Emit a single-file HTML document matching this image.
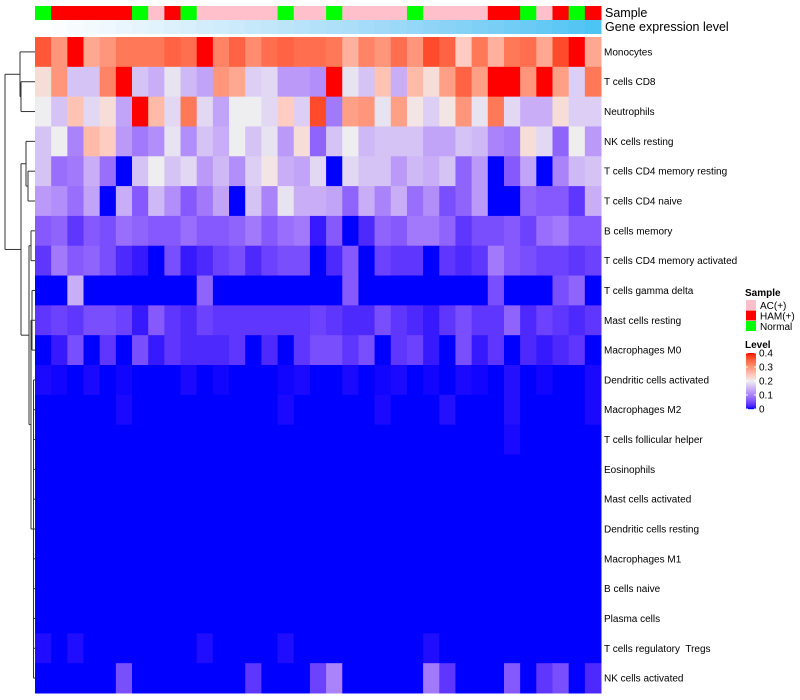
<!DOCTYPE html>
<html><head><meta charset="utf-8"><style>
html,body{margin:0;padding:0;background:#fff;}
svg{display:block;font-family:"Liberation Sans",sans-serif;}
text{white-space:pre;}
</style></head><body>
<svg id="chart" width="800" height="700" viewBox="0 0 800 700"></svg>
<script>
const rowNames=["Monocytes","T cells CD8","Neutrophils","NK cells resting","T cells CD4 memory resting","T cells CD4 naive","B cells memory","T cells CD4 memory activated","T cells gamma delta","Mast cells resting","Macrophages M0","Dendritic cells activated","Macrophages M2","T cells follicular helper","Eosinophils","Mast cells activated","Dendritic cells resting","Macrophages M1","B cells naive","Plasma cells","T cells regulatory  Tregs","NK cells activated"];
const sampleGroups=["N","H","H","H","H","H","N","A","H","N","A","A","A","A","A","N","A","A","N","A","A","A","A","N","A","A","A","A","H","H","N","A","H","N","H"];
const levelTicks=[0,0.1,0.2,0.3,0.4];
const r1=[.36,.30,.40,.28,.30,.33,.33,.33,.35,.34,.40,.32,.35,.31,.34,.35,.34,.34,.33,.27,.32,.30,.34,.30,.37,.35,.24,.33,.27,.33,.34,.28,.37,.40,.28];
const r2=[.22,.30,.16,.16,.32,.40,.16,.14,.19,.15,.13,.30,.28,.17,.18,.12,.12,.11,.40,.19,.16,.25,.14,.26,.22,.29,.35,.29,.40,.40,.30,.40,.29,.17,.33];
const r3=[.20,.16,.25,.18,.22,.13,.40,.26,.18,.33,.18,.13,.20,.20,.18,.24,.17,.37,.09,.29,.30,.19,.29,.21,.17,.21,.30,.19,.33,.18,.14,.14,.22,.17,.17];
const r4=[.16,.20,.10,.26,.24,.12,.09,.11,.19,.11,.16,.14,.20,.16,.19,.12,.22,.07,.16,.20,.15,.16,.16,.16,.13,.13,.16,.15,.10,.09,.22,.18,.07,.20,.12];
const r5=[.16,.08,.09,.14,.08,0,.16,.20,.16,.18,.12,.15,.11,.17,.21,.14,.13,.18,0,.18,.16,.16,.12,.15,.14,.16,.07,.12,0,.06,.13,0,.10,.15,.16];
const r6=[.12,.11,.08,.13,0,.14,.06,.15,.11,.06,.09,.13,0,.16,.10,.19,.14,.14,.13,.07,.14,.10,.14,.08,.11,.05,.07,.12,0,0,.07,.06,.06,.03,.14];
const r7=[.06,.07,.03,.06,.05,.08,.07,.06,.06,.08,.06,.06,.07,.09,.06,.08,.09,.01,.06,0,.02,.07,.06,.09,.09,.07,.03,.05,.05,.06,.04,.08,.09,.06,.06];
const r8=[.03,.09,.06,.07,.05,.02,.01,0,.05,.01,.02,.04,.05,.02,.04,.05,.05,0,.02,.06,0,.04,.03,.03,0,.03,.02,.03,.09,.06,.05,.04,.04,.03,.04];
const r9=[0,0,.14,0,0,0,0,0,0,0,.07,0,0,0,0,0,0,0,0,.06,0,0,0,0,0,0,0,0,.05,0,0,0,.05,.07,0];
const r10=[.03,.04,.03,.05,.05,.04,.01,.06,.03,.02,.04,.03,.03,.03,.03,.03,.03,.04,.03,.02,.02,.05,.03,.02,.01,.03,.05,.03,.03,.07,.02,.04,.03,.02,.03];
const r11=[0,.01,.05,0,.03,0,.05,.01,.03,.02,.02,.02,.03,0,.02,0,.03,.05,.05,.03,.05,0,.03,.04,.01,0,.05,.01,.03,0,.02,.01,.02,.03,0];
const r12=[.003,.0015,0,.003,0,.0015,0,0,0,.003,0,.0015,0,0,0,.0015,.003,0,0,.003,0,.0015,.003,0,.0015,0,.003,.0015,0,.005,0,.0015,0,0,.003];
const r13=[0,0,0,0,0,.003,0,0,0,0,0,0,0,0,0,.003,0,0,0,0,0,.003,0,0,0,.005,0,0,0,.005,0,0,0,0,.003];
const r14=[0,0,0,0,0,0,0,0,0,0,0,0,0,0,0,0,0,0,0,0,0,0,0,0,0,0,0,0,0,.003,0,0,0,0,0];
const r15=[0,0,0,0,0,0,0,0,0,0,0,0,0,0,0,0,0,0,0,0,0,0,0,0,0,0,0,0,0,0,0,0,0,0,0];
const r16=[0,0,0,0,0,0,0,0,0,0,0,0,0,0,0,0,0,0,0,0,0,0,0,0,0,0,0,0,0,0,0,0,0,0,0];
const r17=[0,0,0,0,0,0,0,0,0,0,0,0,0,0,0,0,0,0,0,0,0,0,0,0,0,0,0,0,0,0,0,0,0,0,0];
const r18=[0,0,0,0,0,0,0,0,0,0,0,0,0,0,0,0,0,0,0,0,0,0,0,0,0,0,0,0,0,0,0,0,0,0,0];
const r19=[0,0,0,0,0,0,0,0,0,0,0,0,0,0,0,0,0,0,0,0,0,0,0,0,0,0,0,0,0,0,0,0,0,0,0];
const r20=[0,0,0,0,0,0,0,0,0,0,0,0,0,0,0,0,0,0,0,0,0,0,0,0,0,0,0,0,0,0,0,0,0,0,0];
const r21=[.004,0,.004,0,0,0,0,0,0,0,.004,0,0,0,0,.004,0,0,0,0,0,0,0,0,.004,0,0,0,0,0,0,0,0,0,0];
const r22=[0,0,0,0,0,.05,0,0,0,0,0,0,0,.03,0,0,0,.04,.10,0,0,0,0,0,.09,.03,0,0,0,.06,0,.03,.05,0,.02];
const values=[r1,r2,r3,r4,r5,r6,r7,r8,r9,r10,r11,r12,r13,r14,r15,r16,r17,r18,r19,r20,r21,r22];

const NS="http://www.w3.org/2000/svg";
const svg=document.getElementById("chart");
function mk(tag,attrs,parent){const e=document.createElementNS(NS,tag);for(const k in attrs)e.setAttribute(k,attrs[k]);(parent||svg).appendChild(e);return e;}
function toLin(c){c/=255;return c<=0.04045?c/12.92:Math.pow((c+0.055)/1.055,2.4);}
function fromLin(c){c=c<=0.0031308?12.92*c:1.055*Math.pow(c,1/2.4)-0.055;return Math.max(0,Math.min(255,Math.round(c*255)));}
function rgb2lab(r,g,b){r=toLin(r);g=toLin(g);b=toLin(b);let x=(r*0.4124+g*0.3576+b*0.1805)/0.95047,y=r*0.2126+g*0.7152+b*0.0722,z=(r*0.0193+g*0.1192+b*0.9505)/1.08883;const f=t=>t>0.008856?Math.cbrt(t):7.787*t+16/116;x=f(x);y=f(y);z=f(z);return[116*y-16,500*(x-y),200*(y-z)];}
function lab2rgb(L,a,b){let y=(L+16)/116,x=a/500+y,z=y-b/200;const fi=t=>t*t*t>0.008856?t*t*t:(t-16/116)/7.787;x=fi(x)*0.95047;y=fi(y);z=fi(z)*1.08883;const r=x*3.2406+y*-1.5372+z*-0.4986,g=x*-0.9689+y*1.8758+z*0.0415,bb=x*0.0557+y*-0.2040+z*1.0570;return"rgb("+fromLin(r)+","+fromLin(g)+","+fromLin(bb)+")";}
const LB=rgb2lab(0,0,255),LW=rgb2lab(238,238,240),LR=rgb2lab(255,0,0);
function colorScale(v){v=Math.max(0,Math.min(0.4,v));let a,b,t;if(v<=0.2){a=LB;b=LW;t=v/0.2;}else{a=LW;b=LR;t=(v-0.2)/0.2;}return lab2rgb(a[0]+(b[0]-a[0])*t,a[1]+(b[1]-a[1])*t,a[2]+(b[2]-a[2])*t);}
const LGe0=rgb2lab(255,255,255),LGe1=rgb2lab(76,196,244);
function geneColor(t){return lab2rgb(LGe0[0]+(LGe1[0]-LGe0[0])*t,LGe0[1]+(LGe1[1]-LGe0[1])*t,LGe0[2]+(LGe1[2]-LGe0[2])*t);}
const groupColor={A:"#FFC0CB",H:"#FF0000",N:"#00FF00"};

const X0=35,X1=601,Y0=37,Y1=693;
const nCol=sampleGroups.length,nRow=rowNames.length;
const cw=(X1-X0)/nCol,rh=(Y1-Y0)/nRow;
const xCol=i=>X0+i*cw, yRow=j=>Y0+j*rh;

const gS=mk("g",{});


sampleGroups.forEach((g,i)=>{const r=mk("rect",{x:xCol(i),y:6,width:cw+0.5,height:14,fill:groupColor[g]},gS);

});
const gG=mk("g",{});


for(let i=0;i<nCol;i++){const r=mk("rect",{x:xCol(i),y:20,width:cw+0.5,height:14,fill:geneColor(i/(nCol-1))},gG);

}
let t=mk("text",{x:605,y:17,"font-size":12.5,fill:"#000"});t.textContent="Sample";


t=mk("text",{x:605,y:31,"font-size":12.5,fill:"#000"});t.textContent="Gene expression level";



const gH=mk("g",{});


values.forEach((row,j)=>{row.forEach((v,i)=>{const r=mk("rect",{x:xCol(i),y:yRow(j),width:cw+0.5,height:rh+0.5,fill:colorScale(v)},gH);

});
const l=mk("text",{x:604,y:yRow(j)+rh/2+3.5,"font-size":10,fill:"#000","xml:space":"preserve"});l.textContent=rowNames[j];

});

const gD=mk("g",{stroke:"#333","stroke-width":1,fill:"none"});


const cy=j=>yRow(j)+rh/2;
function seg(x1,y1,x2,y2){mk("line",{x1:x1,y1:y1,x2:x2,y2:y2},gD);}
seg(X0,cy(1),21,cy(1));seg(X0,cy(2),21,cy(2));seg(21,cy(1),21,cy(2));
const a23=(cy(1)+cy(2))/2;seg(21,a23,20,a23);seg(X0,cy(0),20,cy(0));seg(20,cy(0),20,a23);
const nA=(cy(0)+a23)/2;seg(20,nA,5,nA);
seg(X0,cy(4),28,cy(4));seg(X0,cy(5),28,cy(5));seg(28,cy(4),28,cy(5));
const b56=(cy(4)+cy(5))/2;seg(28,b56,26,b56);seg(X0,cy(3),26,cy(3));seg(26,cy(3),26,b56);
const nB=(cy(3)+b56)/2;seg(26,nB,21,nB);
seg(X0,cy(6),31,cy(6));seg(X0,cy(7),31,cy(7));seg(31,cy(6),31,cy(7));
const c78=(cy(6)+cy(7))/2;seg(31,c78,29,c78);
for(let j=8;j<11;j++)seg(X0,cy(j),32,cy(j));
seg(32,cy(8),32,cy(10));
for(let j=11;j<nRow;j++)seg(X0,cy(j),33.5,cy(j));
seg(33.5,cy(11),33.5,cy(nRow-1));
const c9=(cy(8)+cy(10))/2, cL=(cy(11)+cy(nRow-1))/2;
seg(33.5,cL,31,cL);seg(32,c9,31,c9);seg(31,c9,31,cL);
const cM=(c9+cL)/2;seg(31,cM,29,cM);seg(29,c78,29,cM);
const nC=(c78+cM)/2;seg(29,nC,21,nC);
seg(21,nB,21,nC);const nBC=(nB+nC)/2;seg(21,nBC,5,nBC);
seg(5,nA,5,nBC);

const gL=mk("g",{});


t=mk("text",{x:745,y:296,"font-size":10,"font-weight":"bold",fill:"#000"},gL);t.textContent="Sample";


[["A","AC(+)"],["H","HAM(+)"],["N","Normal"]].forEach((e,k)=>{
const r=mk("rect",{x:746,y:300+k*10.5,width:10,height:10,fill:groupColor[e[0]]},gL);


const tt=mk("text",{x:760,y:309+k*10.5,"font-size":10,fill:"#000"},gL);tt.textContent=e[1];

});
t=mk("text",{x:745,y:348,"font-size":10,"font-weight":"bold",fill:"#000"},gL);t.textContent="Level";


const cbTop=353,cbBot=409;
for(let k=0;k<56;k++){const v=0.4*(1-k/55);const r=mk("rect",{x:746,y:cbTop+k,width:10,height:1.2,fill:colorScale(v)},gL);

}
levelTicks.forEach(v=>{const y=cbBot-(v/0.4)*(cbBot-cbTop);
mk("line",{x1:746,y1:y,x2:748,y2:y,stroke:"#fff","stroke-width":1},gL);
mk("line",{x1:754,y1:y,x2:756,y2:y,stroke:"#fff","stroke-width":1},gL);
const tt=mk("text",{x:759,y:y+3.5,"font-size":10,fill:"#000"},gL);tt.textContent=String(v);

});
</script>
</body></html>
